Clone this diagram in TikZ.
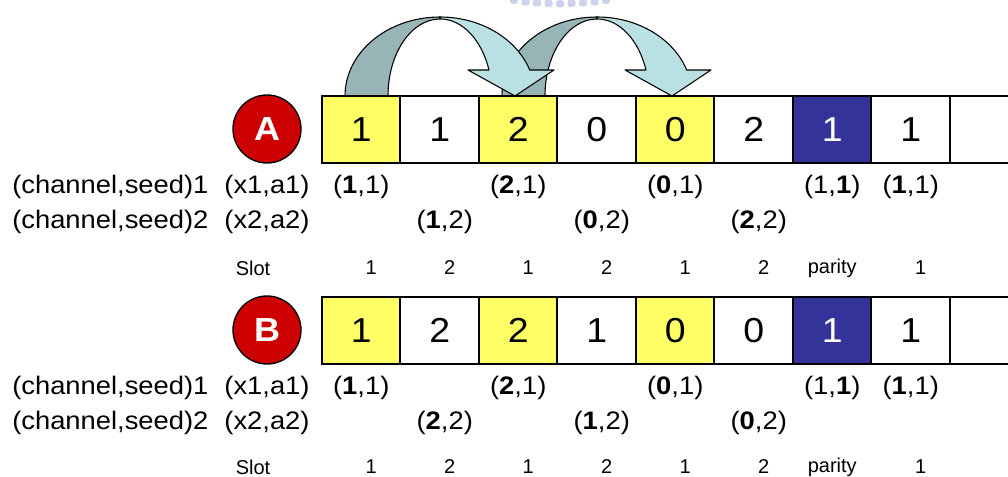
\documentclass[tikz,border=0pt]{standalone}
\usepackage{fontspec}
\setmainfont[FakeStretch=1.08]{Liberation Sans}
\newfontfamily\slotfont{Liberation Sans}
\usepackage{tikz}
\usetikzlibrary{positioning,calc}
\definecolor{cellyellow}{HTML}{FFFF66}
\definecolor{cellblue}{HTML}{333399}
\definecolor{badgered}{HTML}{CC0000}
\definecolor{arrowdark}{HTML}{97B4B7}
\definecolor{arrowlight}{HTML}{B9E0E3}
\definecolor{logoblue}{HTML}{A9B5E4}

\begin{document}
\begin{tikzpicture}[
		x=0.75pt, y=-0.75pt,
		cell/.style={
			draw,
			line width=1.5pt,
			minimum width=58.9pt,
			minimum height=50.2pt,
			inner sep=0pt,
			font=\fontsize{26}{28}\selectfont
		},
		badge/.style={
			circle,
			draw,
			line width=1pt,
			fill=badgered,
			text=white,
			minimum size=51pt,
			inner sep=0pt,
			font=\bfseries\fontsize{25}{28}\selectfont
		},
		lab/.style={
			inner sep=0pt,
			font=\fontsize{19}{21}\selectfont
		},
		slot/.style={
			inner sep=0pt,
			font=\slotfont\fontsize{15}{18}\selectfont
		},
		arrowback/.style={fill=arrowdark, draw, line width=0.8pt, line join=round},
		arrowfront/.style={fill=arrowlight, draw, line width=0.8pt, line join=round}
		]
		
		\useasboundingbox (0,0) rectangle (1008,477);
		\clip (0,0) rectangle (1008,477);
		
		% Logo (cut off)
		\foreach \x/\y in {514/1.5,525.5/3,537/4,548.5/4.5,560/5,571.5/4.5,583/4,594.5/3,606/1.5}
		\fill[logoblue, opacity=0.6, rounded corners=2pt] (\x-4,\y-5) rectangle (\x+4,\y+2.5);
		
		% Curved arrows
		\foreach \s in {157,0}{
			\begin{scope}[shift={(\s,0)}]
				\filldraw[arrowback] (345,96) arc[start angle=180, end angle=270, x radius=95, y radius=79]
				-- (440,19) arc[start angle=270, end angle=180, x radius=52, y radius=77] -- cycle;
				\filldraw[arrowfront] (440,17) arc[start angle=270, end angle=340.8, x radius=95, y radius=79]
				-- (554,70) -- (515,96) -- (468,70) -- (489,70)
				arc[start angle=340.3, end angle=270, x radius=52, y radius=77] -- cycle;
			\end{scope}
		}
		
		% Row A
		\node[badge] (badgeA) at (267,129) {A};
		\foreach \v/\f/\t [count=\i] in {1/cellyellow/black, 1/white/black, 2/cellyellow/black,
			0/white/black, 0/cellyellow/black, 2/white/black, 1/cellblue/white, 1/white/black,
			\phantom{0}/white/black}
		\node[cell, fill=\f, text=\t] (a\i) at ({361.25+78.5*(\i-1)},129.5) {\v};
		
		\node[lab, anchor=west] (csA1) at (12,187) {(channel,seed)1};
		\node[lab] (xaA1) at (badgeA |- csA1) {(x1,a1)};
		\node[lab, anchor=west] (csA2) at (12,222) {(channel,seed)2};
		\node[lab] (xaA2) at (badgeA |- csA2) {(x2,a2)};
		\foreach \c/\t in {1/{(\textbf{1},1)}, 3/{(\textbf{2},1)}, 5/{(\textbf{0},1)}, 7/{(1,\textbf{1})}, 8/{(\textbf{1},1)}}
		\node[lab] (pA1-\c) at (a\c |- csA1) {\t};
		\foreach \c/\t in {2/{(\textbf{1},2)}, 4/{(\textbf{0},2)}, 6/{(\textbf{2},2)}}
		\node[lab, xshift=3.75pt] (pA2-\c) at (a\c |- csA2) {\t};
		
		\node[slot] (slotA) at (253,268) {Slot};
		\foreach \c/\t/\d in {1/1/7.5, 2/2/7.5, 3/1/7.5, 4/2/7.5, 5/1/7.5, 6/2/7.5, 7/parity/0, 8/1/7.5}
		\node[slot, xshift=\d pt] (sA-\c) at (a\c |- slotA) {\t};
		
		% Row B
		\node[badge] (badgeB) at (267,330) {B};
		\foreach \v/\f/\t [count=\i] in {1/cellyellow/black, 2/white/black, 2/cellyellow/black,
			1/white/black, 0/cellyellow/black, 0/white/black, 1/cellblue/white, 1/white/black,
			\phantom{0}/white/black}
		\node[cell, fill=\f, text=\t] (b\i) at ({361.25+78.5*(\i-1)},330.5) {\v};
		
		\node[lab, anchor=west] (csB1) at (12,388) {(channel,seed)1};
		\node[lab] (xaB1) at (badgeB |- csB1) {(x1,a1)};
		\node[lab, anchor=west] (csB2) at (12,423) {(channel,seed)2};
		\node[lab] (xaB2) at (badgeB |- csB2) {(x2,a2)};
		\foreach \c/\t in {1/{(\textbf{1},1)}, 3/{(\textbf{2},1)}, 5/{(\textbf{0},1)}, 7/{(1,\textbf{1})}, 8/{(\textbf{1},1)}}
		\node[lab] (pB1-\c) at (b\c |- csB1) {\t};
		\foreach \c/\t in {2/{(\textbf{2},2)}, 4/{(\textbf{1},2)}, 6/{(\textbf{0},2)}}
		\node[lab, xshift=3.75pt] (pB2-\c) at (b\c |- csB2) {\t};
		
		\node[slot] (slotB) at (253,467) {Slot};
		\foreach \c/\t/\d in {1/1/7.5, 2/2/7.5, 3/1/7.5, 4/2/7.5, 5/1/7.5, 6/2/7.5, 7/parity/0, 8/1/7.5}
		\node[slot, xshift=\d pt] (sB-\c) at (b\c |- slotB) {\t};
		
	\end{tikzpicture}
\end{document}
